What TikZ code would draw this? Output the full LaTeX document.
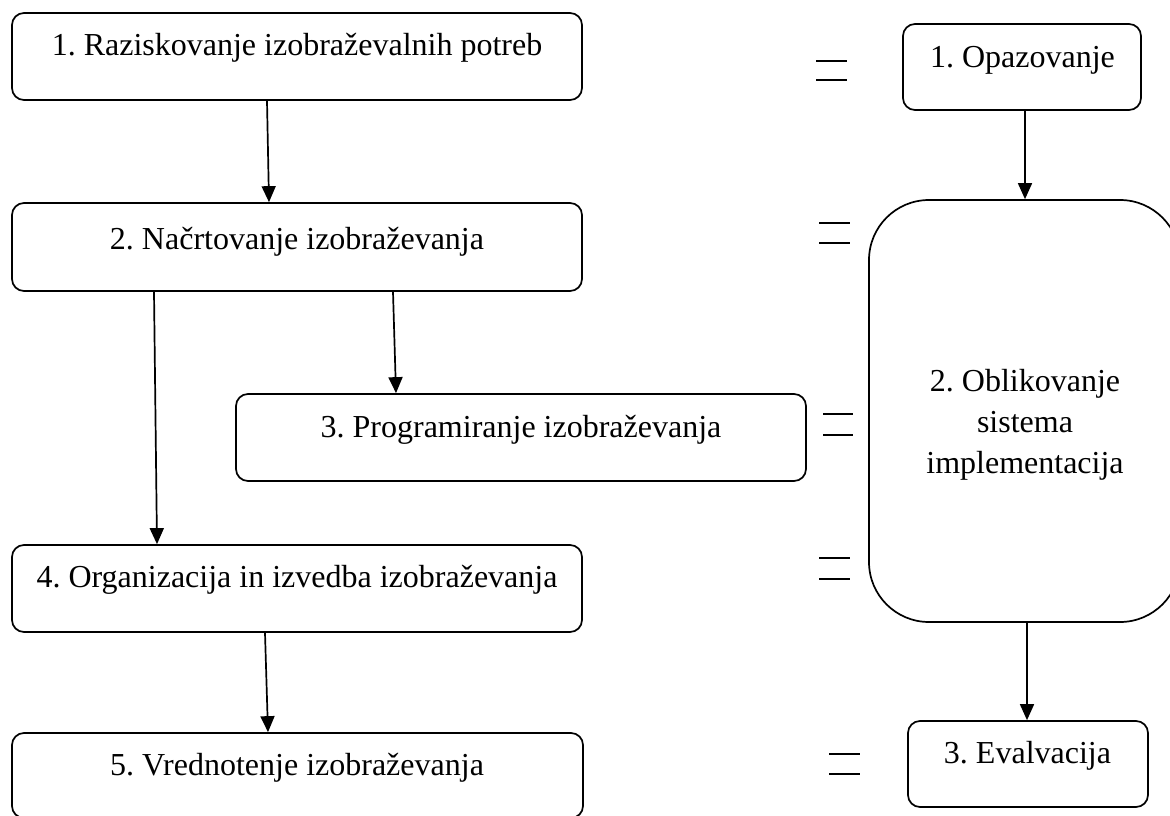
\documentclass[tikz,border=0pt]{standalone}
\usepackage{fontspec}
\setmainfont{Liberation Serif}
\usetikzlibrary{arrows.meta}
\frenchspacing
\begin{document}
\begin{tikzpicture}[x=1pt,y=-1pt,
  box/.style={draw, line width=1.7pt, rounded corners=12pt, inner sep=0pt},
  lbl/.style={anchor=base, inner sep=0pt, align=center, font=\fontsize{32}{41}\selectfont},
  arr/.style={line width=1.7pt, -{Triangle[length=16pt,width=14pt]}},
  eq/.style={line width=1.7pt}]
\useasboundingbox (0,0) rectangle (1170,816);
\clip (0,0) rectangle (1170,816);

% left column boxes
\node[box, minimum width=570pt, minimum height=87pt] (b1) at (297,56.5) {};
\node[box, minimum width=570pt, minimum height=88pt] (b2) at (297,247) {};
\node[box, minimum width=570pt, minimum height=87pt] (b3) at (521,437.5) {};
\node[box, minimum width=570pt, minimum height=87pt] (b4) at (297,588.5) {};
\node[box, minimum width=571pt, minimum height=85pt] (b5) at (297.5,775.5) {};

% right column boxes
\node[box, minimum width=238pt, minimum height=86pt] (r1) at (1022,67) {};
\node[box, rounded corners=60pt, minimum width=311pt, minimum height=422pt] (r2) at (1024.5,411) {};
\node[box, minimum width=240pt, minimum height=86pt] (r3) at (1028,764) {};

% texts
\node[lbl] (t1) at (297,56) {1. Raziskovanje izobraževalnih potreb};
\node[lbl] (t2) at (297,249) {2. Načrtovanje izobraževanja};
\node[lbl] (t3) at (521,437) {3. Programiranje izobraževanja};
\node[lbl] (t4) at (297,587) {4. Organizacija in izvedba izobraževanja};
\node[lbl] (t5) at (297,775) {5. Vrednotenje izobraževanja};
\node[lbl] (u1) at (1022.5,68) {1. Opazovanje};
\node[lbl] (u2) at (1025,473) {2. Oblikovanje\\sistema\\implementacija};
\node[lbl] (u3) at (1027.5,763) {3. Evalvacija};

% connectors
\draw[arr] ([xshift=-30pt]b1.south) -- ([xshift=-28pt]b2.north);
\draw[arr] ([xshift=96pt]b2.south) -- ([xshift=-125pt]b3.north);
\draw[arr] ([xshift=-143pt]b2.south) -- ([xshift=-140pt]b4.north);
\draw[arr] ([xshift=-32pt]b4.south) -- ([xshift=-29.5pt]b5.north);
\draw[arr] ([xshift=3pt]r1.south) -- ([xshift=0.5pt]r2.north);
\draw[arr] ([xshift=2.5pt]r2.south) -- ([xshift=-1pt]r3.north);

% equals signs
\draw[eq] (816,61) -- (847,61) (816,80) -- (847,80);
\draw[eq] (819,223) -- (850,223) (819,243) -- (850,243);
\draw[eq] (823,414) -- (853,414) (823,435) -- (853,435);
\draw[eq] (819,558) -- (850,558) (819,579) -- (850,579);
\draw[eq] (829,754) -- (860,754) (829,774) -- (860,774);
\end{tikzpicture}
\end{document}
